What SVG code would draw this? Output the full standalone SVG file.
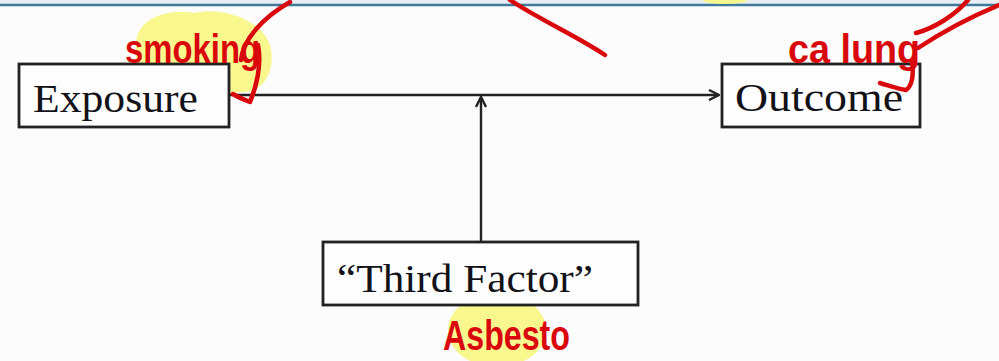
<svg xmlns="http://www.w3.org/2000/svg" width="999" height="361" viewBox="0 0 999 361">
<defs>
<style>
.box{fill:#fdfdfd;stroke:#222;stroke-width:2.8}
.lbl{font-family:"Liberation Serif","DejaVu Serif",serif;font-size:41px;fill:#121218}
.edge{stroke:#222;stroke-width:2.4;fill:none}
.ink{font-family:"Liberation Sans","DejaVu Sans",sans-serif;font-weight:bold;fill:#d8080c}
.stroke{stroke:#d8080c;stroke-width:4.5;fill:none;stroke-linecap:round;stroke-linejoin:round}
.hl{fill:#f7f77a;opacity:0.85}
</style>
<marker id="arr" viewBox="0 0 12 12" refX="11" refY="6" markerWidth="12" markerHeight="12" markerUnits="userSpaceOnUse" orient="auto">
<path d="M1,1 L11,6 L1,11" fill="none" stroke="#222" stroke-width="2.4"/>
</marker>
</defs>
<rect x="0" y="0" width="999" height="361" fill="#fcfcfc"/>
<rect x="0" y="0" width="999" height="4" fill="#e8eef2"/>
<line x1="0" y1="5" x2="999" y2="5" stroke="#3f7a9a" stroke-width="2.5"/>
<g id="highlights">
<path class="hl" d="M136,45 C136,18 168,8 195,13 C222,6 262,20 270,45 C277,72 262,94 240,92 C215,97 168,92 148,80 C136,72 136,58 136,45 Z"/>
<ellipse class="hl" cx="497" cy="330" rx="49" ry="37"/>
<ellipse class="hl" cx="725" cy="0" rx="22" ry="4"/>
</g>
<g id="connectors">
<line class="edge" x1="230" y1="95" x2="719" y2="95" marker-end="url(#arr)"/>
<line class="edge" x1="481" y1="241" x2="481" y2="97" marker-end="url(#arr)"/>
</g>
<g id="exposure">
<rect class="box" x="19" y="64" width="210" height="63"/>
<text class="lbl" x="33" y="112" textLength="165" lengthAdjust="spacingAndGlyphs">Exposure</text>
</g>
<g id="outcome">
<rect class="box" x="722" y="64" width="198" height="63"/>
<text class="lbl" x="735" y="111" textLength="168" lengthAdjust="spacingAndGlyphs">Outcome</text>
</g>
<g id="third-factor">
<rect class="box" x="323" y="242" width="315" height="63"/>
<text class="lbl" x="337" y="292" textLength="256" lengthAdjust="spacingAndGlyphs">“Third Factor”</text>
</g>
<g id="annotations">
<text class="ink" x="125" y="63" font-size="40" textLength="135" lengthAdjust="spacingAndGlyphs">smoking</text>
<text class="ink" x="788" y="63" font-size="40" textLength="132" lengthAdjust="spacingAndGlyphs">ca lung</text>
<text class="ink" x="443" y="350" font-size="42" textLength="127" lengthAdjust="spacingAndGlyphs">Asbesto</text>
<path class="stroke" d="M241,60 C243,40 262,18 290,2"/>
<path class="stroke" d="M258,45 C262,65 256,88 250,102 C245,100 238,97 233,94"/>
<path class="stroke" d="M510,0 C540,20 575,35 605,55"/>
<path class="stroke" d="M916,33 C935,28 955,15 968,0"/>
<path class="stroke" d="M918,48 C945,30 975,15 999,5"/>
<path class="stroke" d="M912,62 C914,75 912,86 906,90 C898,89 890,86 880,83"/>
</g>
</svg>
